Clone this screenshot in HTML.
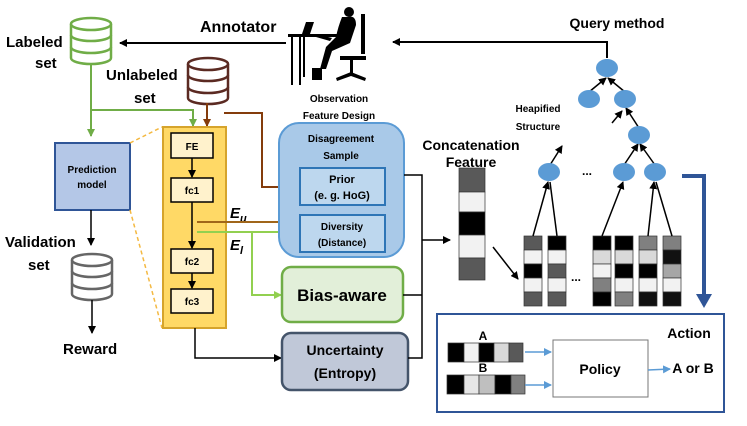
<!DOCTYPE html>
<html><head><meta charset="utf-8"><style>
body{margin:0;background:#fff}
svg text{font-family:"Liberation Sans",sans-serif;font-weight:bold}
</style></head><body>
<svg width="747" height="421" viewBox="0 0 747 421" xmlns="http://www.w3.org/2000/svg">
<defs>
<marker id="ak" markerWidth="8" markerHeight="8" refX="7" refY="4" orient="auto" markerUnits="userSpaceOnUse"><path d="M0,0 L8,4 L0,8z" fill="#000"/></marker>
<marker id="ag" markerWidth="8" markerHeight="8" refX="7" refY="4" orient="auto" markerUnits="userSpaceOnUse"><path d="M0,0 L8,4 L0,8z" fill="#70ad47"/></marker>
<marker id="agl" markerWidth="8" markerHeight="8" refX="7" refY="4" orient="auto" markerUnits="userSpaceOnUse"><path d="M0,0 L8,4 L0,8z" fill="#92d050"/></marker>
<marker id="ab" markerWidth="8" markerHeight="8" refX="7" refY="4" orient="auto" markerUnits="userSpaceOnUse"><path d="M0,0 L8,4 L0,8z" fill="#843c0c"/></marker>
<marker id="agr" markerWidth="8" markerHeight="8" refX="7" refY="4" orient="auto" markerUnits="userSpaceOnUse"><path d="M0,0 L8,4 L0,8z" fill="#888"/></marker>
<marker id="alb" markerWidth="8" markerHeight="8" refX="7" refY="4" orient="auto" markerUnits="userSpaceOnUse"><path d="M0,0 L8,4 L0,8z" fill="#5b9bd5"/></marker>
<g id="cyl">
<path d="M0,6 v34 a20,6 0 0 0 40,0 v-34" fill="#fff" stroke-width="2.5"/>
<ellipse cx="20" cy="6" rx="20" ry="6" fill="#fff" stroke-width="2.5"/>
<path d="M0,17 a20,6 0 0 0 40,0 M0,29 a20,6 0 0 0 40,0" fill="none" stroke-width="2.5"/>
</g>
</defs>

<!-- databases -->
<use href="#cyl" x="71" y="18" stroke="#70ad47"/>
<use href="#cyl" x="188" y="58" stroke="#5b2a22"/>
<use href="#cyl" x="72" y="254" stroke="#666"/>
<text x="6" y="47" font-size="15">Labeled</text>
<text x="35" y="68" font-size="15">set</text>
<text x="106" y="80" font-size="15">Unlabeled</text>
<text x="134" y="103" font-size="15">set</text>
<text x="5" y="247" font-size="15">Validation</text>
<text x="28" y="270" font-size="15">set</text>
<text x="63" y="354" font-size="15">Reward</text>
<text x="200" y="32" font-size="16">Annotator</text>

<!-- annotator silhouette -->
<g fill="#000">
<rect x="288" y="34" width="60" height="3"/>
<rect x="291" y="37" width="2" height="48"/><rect x="299" y="37" width="2" height="48"/><rect x="303" y="37" width="2" height="40"/>
<rect x="312" y="68" width="10" height="12"/>
<path d="M302,34 l4,-12 l8,0 l-4,12z"/>
<circle cx="349" cy="12" r="5"/>
<path d="M342,17 q-4,10 -6,20 l-10,10 l-6,22 l6,0 l6,-18 l18,-8 l6,-18 q0,-10 -8,-8z"/>
<path d="M332,38 l-16,-4 l0,3 l14,4z"/>
<rect x="361" y="14" width="4" height="40"/>
<rect x="340" y="56" width="26" height="4"/>
<rect x="350" y="60" width="3" height="14"/>
<path d="M336,78 l15,-6 l15,6 l-1,3 l-14,-5 l-14,5z"/>
</g>
<text x="339" y="102" font-size="10" text-anchor="middle">Observation</text>
<text x="339" y="119" font-size="10" text-anchor="middle">Feature Design</text>
<line x1="286" y1="43" x2="120" y2="43" stroke="#000" stroke-width="2" marker-end="url(#ak)"/>
<text x="617" y="28" font-size="14" text-anchor="middle">Query method</text>
<polyline points="607,58 607,42 393,42" fill="none" stroke="#000" stroke-width="2" marker-end="url(#ak)"/>

<!-- green lines -->
<polyline points="91,64 91,136" fill="none" stroke="#70ad47" stroke-width="2" marker-end="url(#ag)"/>
<polyline points="91,110 193,110 193,126" fill="none" stroke="#70ad47" stroke-width="2" marker-end="url(#ag)"/>
<line x1="207" y1="103" x2="207" y2="126" stroke="#843c0c" stroke-width="2" marker-end="url(#ab)"/>
<polyline points="224,113 262,113 262,187 299,187" fill="none" stroke="#843c0c" stroke-width="2" marker-end="url(#agr)"/>

<!-- prediction model -->
<rect x="55" y="143" width="75" height="67" fill="#b4c7e7" stroke="#2f5597" stroke-width="2"/>
<text x="92" y="173" font-size="10" text-anchor="middle">Prediction</text>
<text x="92" y="188" font-size="10" text-anchor="middle">model</text>
<line x1="91" y1="210" x2="91" y2="245" stroke="#000" stroke-width="1.5" marker-end="url(#ak)"/>
<line x1="92" y1="300" x2="92" y2="333" stroke="#000" stroke-width="1.5" marker-end="url(#ak)"/>
<line x1="130" y1="143" x2="162" y2="127" stroke="#f4b942" stroke-width="1.5" stroke-dasharray="4,3"/>
<line x1="130" y1="210" x2="162" y2="328" stroke="#f4b942" stroke-width="1.5" stroke-dasharray="4,3"/>

<!-- yellow network -->
<rect x="163" y="127" width="63" height="201" fill="#ffd966" stroke="#d6a42c" stroke-width="2"/>
<g fill="#fff2cc" stroke="#000" stroke-width="1.5">
<rect x="171" y="133" width="42" height="25"/><rect x="171" y="178" width="42" height="24"/>
<rect x="171" y="249" width="42" height="24"/><rect x="171" y="289" width="42" height="24"/>
</g>
<g font-size="10" text-anchor="middle"><text x="192" y="150">FE</text><text x="192" y="194">fc1</text><text x="192" y="265">fc2</text><text x="192" y="305">fc3</text></g>
<line x1="192" y1="158" x2="192" y2="177" stroke="#000" stroke-width="1.5" marker-end="url(#ak)"/>
<line x1="192" y1="202" x2="192" y2="248" stroke="#000" stroke-width="1.5" marker-end="url(#ak)"/>
<line x1="192" y1="273" x2="192" y2="288" stroke="#000" stroke-width="1.5" marker-end="url(#ak)"/>
<text x="230" y="218" font-size="15" font-style="italic" font-family="Liberation Serif">E<tspan font-size="11" dy="4">u</tspan></text>
<text x="230" y="250" font-size="15" font-style="italic" font-family="Liberation Serif">E<tspan font-size="11" dy="4">l</tspan></text>
<line x1="197" y1="222" x2="299" y2="222" stroke="#a0661a" stroke-width="2" marker-end="url(#ab)"/>
<line x1="197" y1="232" x2="299" y2="232" stroke="#92d050" stroke-width="2" marker-end="url(#agl)"/>
<polyline points="252,232 252,295 281,295" fill="none" stroke="#92d050" stroke-width="2" marker-end="url(#agl)"/>
<polyline points="195,328 195,358 281,358" fill="none" stroke="#000" stroke-width="1.5" marker-end="url(#ak)"/>

<!-- disagreement -->
<rect x="279" y="123" width="125" height="134" rx="20" fill="#a9c9e8" stroke="#5b9bd5" stroke-width="2"/>
<text x="341" y="142" font-size="10" text-anchor="middle">Disagreement</text>
<text x="341" y="159" font-size="10" text-anchor="middle">Sample</text>
<rect x="300" y="168" width="85" height="37" fill="#bdd7ee" stroke="#2e75b6" stroke-width="2"/>
<text x="342" y="183" font-size="11" text-anchor="middle">Prior</text>
<text x="342" y="199" font-size="11" text-anchor="middle">(e. g. HoG)</text>
<rect x="300" y="215" width="85" height="37" fill="#bdd7ee" stroke="#2e75b6" stroke-width="2"/>
<text x="342" y="230" font-size="10" text-anchor="middle">Diversity</text>
<text x="342" y="246" font-size="10" text-anchor="middle">(Distance)</text>
<rect x="282" y="267" width="121" height="55" rx="9" fill="#e2efd9" stroke="#70ad47" stroke-width="2.5"/>
<text x="342" y="301" font-size="17" text-anchor="middle">Bias-aware</text>
<rect x="282" y="333" width="126" height="57" rx="9" fill="#c0c8d8" stroke="#44546a" stroke-width="2.5"/>
<text x="345" y="355" font-size="14" text-anchor="middle">Uncertainty</text>
<text x="345" y="378" font-size="14" text-anchor="middle">(Entropy)</text>
<polyline points="404,175 422,175 422,358 408,358" fill="none" stroke="#000" stroke-width="1.5"/>
<line x1="403" y1="295" x2="422" y2="295" stroke="#000" stroke-width="1.5"/>
<line x1="422" y1="240" x2="450" y2="240" stroke="#000" stroke-width="1.5" marker-end="url(#ak)"/>

<!-- concat -->
<text x="471" y="150" font-size="14" text-anchor="middle">Concatenation</text>
<text x="471" y="167" font-size="14" text-anchor="middle">Feature</text>
<g stroke="#333" stroke-width="0.7">
<rect x="459" y="168" width="26" height="24" fill="#595959"/><rect x="459" y="192" width="26" height="20" fill="#f2f2f2"/>
<rect x="459" y="212" width="26" height="23" fill="#000"/><rect x="459" y="235" width="26" height="23" fill="#f2f2f2"/>
<rect x="459" y="258" width="26" height="22" fill="#595959"/>
</g>
<line x1="493" y1="247" x2="518" y2="279" stroke="#000" stroke-width="1.5" marker-end="url(#ak)"/>

<!-- small bars -->
<g stroke="#333" stroke-width="0.7">
<g transform="translate(524,236)"><rect width="18" height="14" fill="#595959"/><rect y="14" width="18" height="14" fill="#f2f2f2"/><rect y="28" width="18" height="14" fill="#000"/><rect y="42" width="18" height="14" fill="#f2f2f2"/><rect y="56" width="18" height="14" fill="#595959"/></g>
<g transform="translate(548,236)"><rect width="18" height="14" fill="#000"/><rect y="14" width="18" height="14" fill="#f2f2f2"/><rect y="28" width="18" height="14" fill="#595959"/><rect y="42" width="18" height="14" fill="#f2f2f2"/><rect y="56" width="18" height="14" fill="#595959"/></g>
<g transform="translate(593,236)"><rect width="18" height="14" fill="#000"/><rect y="14" width="18" height="14" fill="#d9d9d9"/><rect y="28" width="18" height="14" fill="#f2f2f2"/><rect y="42" width="18" height="14" fill="#808080"/><rect y="56" width="18" height="14" fill="#000"/></g>
<g transform="translate(615,236)"><rect width="18" height="14" fill="#000"/><rect y="14" width="18" height="14" fill="#d9d9d9"/><rect y="28" width="18" height="14" fill="#000"/><rect y="42" width="18" height="14" fill="#f2f2f2"/><rect y="56" width="18" height="14" fill="#808080"/></g>
<g transform="translate(639,236)"><rect width="18" height="14" fill="#808080"/><rect y="14" width="18" height="14" fill="#d9d9d9"/><rect y="28" width="18" height="14" fill="#000"/><rect y="42" width="18" height="14" fill="#f2f2f2"/><rect y="56" width="18" height="14" fill="#111"/></g>
<g transform="translate(663,236)"><rect width="18" height="14" fill="#808080"/><rect y="14" width="18" height="14" fill="#111"/><rect y="28" width="18" height="14" fill="#a6a6a6"/><rect y="42" width="18" height="14" fill="#f2f2f2"/><rect y="56" width="18" height="14" fill="#111"/></g>
</g>
<text x="576" y="281" font-size="12" text-anchor="middle">...</text>
<text x="587" y="175" font-size="12" text-anchor="middle">...</text>

<!-- tree edges -->
<g stroke="#000" stroke-width="1.5" fill="none">
<line x1="533" y1="236" x2="548" y2="182" marker-end="url(#ak)"/><line x1="557" y1="236" x2="550" y2="182"/>
<line x1="602" y1="236" x2="623" y2="182" marker-end="url(#ak)"/>
<line x1="648" y1="236" x2="654" y2="182" marker-end="url(#ak)"/><line x1="672" y1="236" x2="656" y2="182"/>
<line x1="550" y1="165" x2="562" y2="146" marker-end="url(#ak)"/>
<line x1="624" y1="165" x2="638" y2="144" marker-end="url(#ak)"/><line x1="655" y1="165" x2="640" y2="144" marker-end="url(#ak)"/>
<line x1="612" y1="123" x2="622" y2="111" marker-end="url(#ak)"/>
<line x1="639" y1="128" x2="626" y2="108" marker-end="url(#ak)"/>
<line x1="589" y1="92" x2="606" y2="78" marker-end="url(#ak)"/><line x1="625" y1="92" x2="608" y2="78" marker-end="url(#ak)"/>
</g>
<g fill="#5b9bd5">
<ellipse cx="607" cy="68" rx="11" ry="9"/><ellipse cx="589" cy="99" rx="11" ry="9"/><ellipse cx="625" cy="99" rx="11" ry="9"/>
<ellipse cx="639" cy="135" rx="11" ry="9"/><ellipse cx="549" cy="172" rx="11" ry="9"/><ellipse cx="624" cy="172" rx="11" ry="9"/><ellipse cx="655" cy="172" rx="11" ry="9"/>
</g>
<text x="538" y="112" font-size="10" text-anchor="middle">Heapified</text>
<text x="538" y="130" font-size="10" text-anchor="middle">Structure</text>

<!-- blue arrow -->
<polyline points="682,176 704,176 704,296" fill="none" stroke="#2f5597" stroke-width="4"/>
<path d="M696,294 L712,294 L704,308z" fill="#2f5597"/>

<!-- action box -->
<rect x="437" y="314" width="287" height="98" fill="#fff" stroke="#2f5597" stroke-width="2"/>
<text x="689" y="338" font-size="14" text-anchor="middle">Action</text>
<text x="483" y="340" font-size="12" text-anchor="middle">A</text>
<text x="483" y="372" font-size="12" text-anchor="middle">B</text>
<g stroke="#333" stroke-width="0.7">
<rect x="448" y="343" width="16" height="19" fill="#000"/><rect x="464" y="343" width="15" height="19" fill="#f2f2f2"/><rect x="479" y="343" width="15" height="19" fill="#000"/><rect x="494" y="343" width="15" height="19" fill="#d9d9d9"/><rect x="509" y="343" width="14" height="19" fill="#595959"/>
<rect x="447" y="375" width="17" height="19" fill="#000"/><rect x="464" y="375" width="15" height="19" fill="#e6e6e6"/><rect x="479" y="375" width="16" height="19" fill="#bfbfbf"/><rect x="495" y="375" width="16" height="19" fill="#000"/><rect x="511" y="375" width="14" height="19" fill="#808080"/>
</g>
<line x1="525" y1="352" x2="551" y2="352" stroke="#5b9bd5" stroke-width="1.5" marker-end="url(#alb)"/>
<line x1="525" y1="385" x2="551" y2="385" stroke="#5b9bd5" stroke-width="1.5" marker-end="url(#alb)"/>
<rect x="553" y="340" width="95" height="57" fill="#fff" stroke="#777" stroke-width="1"/>
<text x="600" y="374" font-size="14" text-anchor="middle">Policy</text>
<line x1="648" y1="370" x2="670" y2="369" stroke="#5b9bd5" stroke-width="1.5" marker-end="url(#alb)"/>
<text x="693" y="373" font-size="14" text-anchor="middle">A or B</text>
</svg>
</body></html>
